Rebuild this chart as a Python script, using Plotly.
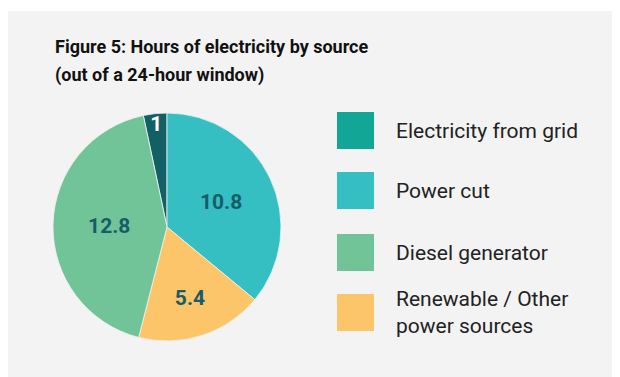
import plotly.graph_objects as go

categories = ["Electricity from grid", "Power cut", "Renewable / Other power sources", "Diesel generator"]
values = [1, 10.8, 5.4, 12.8]
slice_colors = ["#135f66", "#35bfc2", "#fdc56a", "#70c497"]
text_colors = ["#ffffff", "#175d69", "#175d69", "#175d69"]

legend_labels = ["Electricity from grid", "Power cut", "Diesel generator", "Renewable / Other<br>power sources"]
legend_colors = ["#11a696", "#35bfc2", "#70c497", "#fdc56a"]

title_lines = ["Figure 5: Hours of electricity by source", "(out of a 24-hour window)"]

W, H = 620, 377
OFF = 8  # page body margin offset


def px(x):
    return (x - OFF) / W


def py(y):
    return (H - (y - OFF)) / H


fig = go.Figure()
fig.add_trace(go.Pie(
    labels=categories,
    values=values,
    sort=False,
    direction="clockwise",
    rotation=-12,
    marker=dict(colors=slice_colors, line=dict(color="#f3f3f3", width=0.8)),
    texttemplate="%{value}",
    textposition="inside",
    insidetextorientation="horizontal",
    textfont=dict(family="Roboto", size=21, color=text_colors, weight="bold"),
    domain=dict(x=[px(53), px(281)], y=[py(341), py(113)]),
    showlegend=False,
    hoverinfo="label+value",
))

shapes = [dict(type="rect", xref="paper", yref="paper",
               x0=0, x1=1, y0=0, y1=py(11),
               fillcolor="#f3f3f3", line=dict(width=0), layer="below")]
annotations = []
for line, base in zip(title_lines, [55, 84]):
    annotations.append(dict(text=line, xref="paper", yref="paper", x=px(53), y=py(base + 4),
                            xanchor="left", yanchor="bottom", align="left", showarrow=False,
                            font=dict(family="Roboto", size=18, color="#111111", weight="bold")))

box_tops = [112, 172, 234, 294]
for lbl, col, top in zip(legend_labels, legend_colors, box_tops):
    shapes.append(dict(type="rect", xref="paper", yref="paper",
                       x0=px(337), x1=px(374), y0=py(top + 37), y1=py(top),
                       fillcolor=col, line=dict(width=0)))
    annotations.append(dict(text=lbl, xref="paper", yref="paper",
                            x=px(394), y=py(top + 18.5),
                            xanchor="left", yanchor="middle", align="left", showarrow=False,
                            font=dict(family="Roboto", size=21, color="#222222")))

fig.update_layout(
    width=W, height=H,
    margin=dict(l=0, r=0, t=0, b=0),
    paper_bgcolor="#ffffff",
    plot_bgcolor="#ffffff",
    shapes=shapes,
    annotations=annotations,
    uniformtext=dict(minsize=21, mode="show"),
)

fig.write_html("out.html")
